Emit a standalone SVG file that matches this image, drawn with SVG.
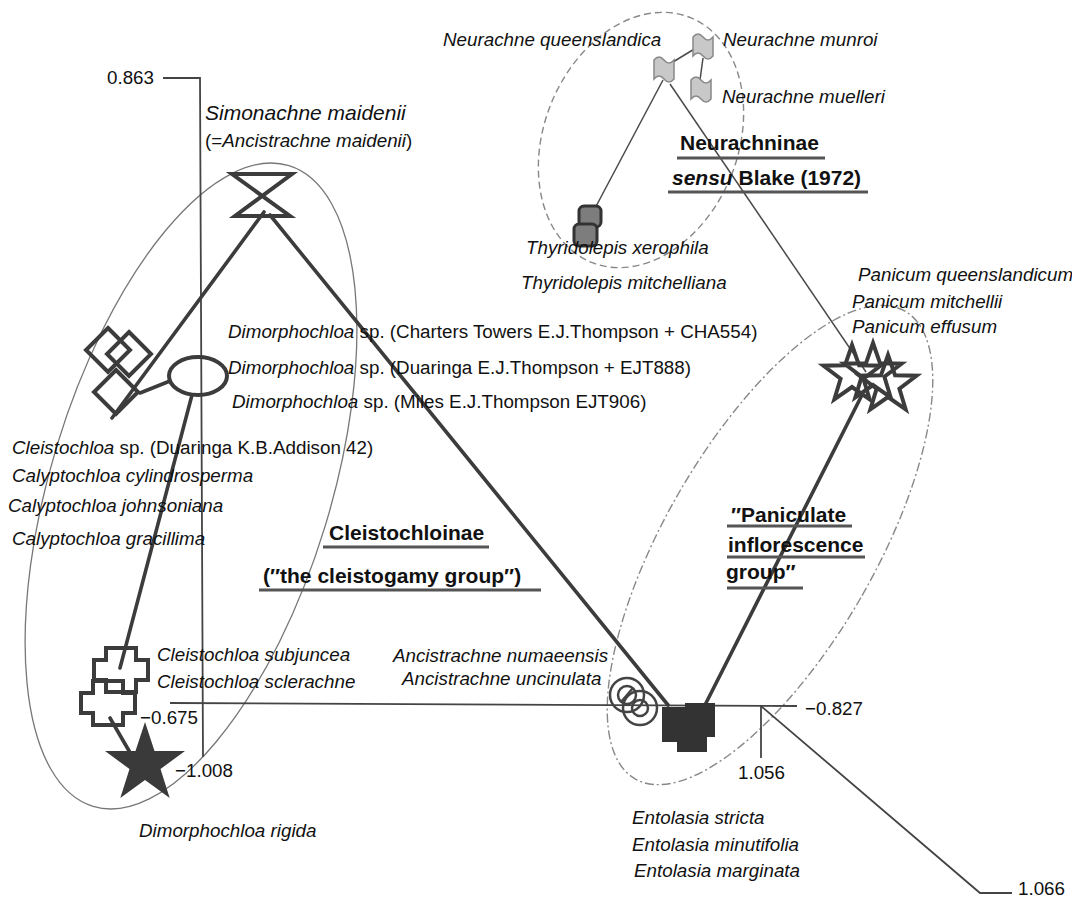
<svg xmlns="http://www.w3.org/2000/svg" width="1072" height="899" viewBox="0 0 1072 899">
<style>
text{font-family:"Liberation Sans",Arial,sans-serif;fill:#111;font-size:18.8px}
.it{font-style:italic}
.b{font-weight:bold;font-size:21px}
.big{font-size:21px}
.ax{stroke:#444;stroke-width:1.8;fill:none}
.thick{stroke:#3c3c3c;stroke-width:3.6;fill:none;stroke-linecap:round}
.thin{stroke:#4a4a4a;stroke-width:1.5;fill:none}
.ul{stroke:#555;stroke-width:3;fill:none}
.node{stroke:#3c3c3c;stroke-width:4;fill:none}
.flag{fill:#c8c8c8;stroke:#888;stroke-width:1.5}
.thy{fill:#7d7d7d;stroke:#333;stroke-width:3}
</style>
<defs>
<polygon id="ostar" points="0,-30 7.06,-9.71 28.53,-9.27 11.41,3.71 17.63,24.27 0,12 -17.63,24.27 -11.41,3.71 -28.53,-9.27 -7.06,-9.71"/>
<polygon id="dia" points="0,-22 22,0 0,22 -22,0"/>
<polygon id="cross" points="-15,-22 15,-22 15,-10 27,-10 27,10 15,10 15,22 -15,22 -15,10 -27,10 -27,-10 -15,-10"/>
<path id="flagp" d="M0,3 Q5,-3 10,3 T20,3 V22 Q15,28 10,22 T0,22 Z"/>
</defs>

<g id="group-ellipses">
<ellipse cx="191" cy="486" rx="140" ry="335" transform="rotate(17 191 486)" fill="none" stroke="#777" stroke-width="1.3"/>
<ellipse cx="641" cy="140" rx="97" ry="132" transform="rotate(22 641 140)" fill="none" stroke="#888" stroke-width="1.4" stroke-dasharray="7 4"/>
<ellipse cx="770" cy="545" rx="105" ry="270" transform="rotate(30 770 545)" fill="none" stroke="#888" stroke-width="1.4" stroke-dasharray="9 3 2 3"/>
</g>

<g id="axes">
<polyline class="ax" points="163,78 200,78 203,757"/>
<line class="ax" x1="170" y1="703" x2="797" y2="706"/>
<line class="ax" x1="761" y1="706" x2="761" y2="758"/>
<polyline class="ax" points="761,706 980,893 1012,893"/>
<text x="107" y="84">0.863</text>
<text x="140" y="724">−0.675</text>
<text x="175" y="777">−1.008</text>
<text x="805" y="715">−0.827</text>
<text x="738" y="779">1.056</text>
<text x="1018" y="895">1.066</text>
</g>

<g id="connectors">
<line class="thick" x1="264" y1="212" x2="112" y2="418"/>
<line class="thick" x1="270" y1="215" x2="668" y2="705"/>
<line class="thick" x1="170" y1="381" x2="140" y2="393"/>
<line class="thick" x1="192" y1="395" x2="120" y2="668"/>
<line class="thick" x1="110" y1="718" x2="132" y2="756"/>
<line class="thick" x1="862" y1="395" x2="705" y2="705"/>
<line class="thin" x1="668" y1="65" x2="696" y2="48"/>
<line class="thin" x1="703" y1="58" x2="700" y2="80"/>
<line class="thin" x1="663" y1="80" x2="593" y2="212" stroke-width="2"/>
<line class="thin" x1="670" y1="84" x2="866" y2="372"/>
</g>

<g id="simonachne">
<polygon class="node" points="232,174 292,174 235,216 290,216" stroke-width="5"/>
<text class="it big" x="205" y="120">Simonachne maidenii</text>
<text x="205" y="147">(=<tspan class="it">Ancistrachne maidenii</tspan>)</text>
</g>

<g id="neurachne">
<use href="#flagp" class="flag" x="654" y="57"/>
<use href="#flagp" class="flag" x="693" y="34"/>
<use href="#flagp" class="flag" x="691" y="77"/>
<text class="it" x="443" y="46">Neurachne queenslandica</text>
<text class="it" x="723" y="46">Neurachne munroi</text>
<text class="it" x="722" y="103">Neurachne muelleri</text>
</g>

<g id="thyridolepis">
<rect class="thy" x="579" y="206" width="22" height="21" rx="5"/>
<rect class="thy" x="574" y="224" width="23" height="22" rx="5"/>
<text class="it" x="526" y="254">Thyridolepis xerophila</text>
<text class="it" x="521" y="289">Thyridolepis mitchelliana</text>
</g>

<g id="neurachninae-label">
<text class="b" x="680" y="150">Neurachninae</text>
<line class="ul" x1="677" y1="158" x2="825" y2="158"/>
<text class="b" x="672" y="185"><tspan font-style="italic">sensu</tspan> Blake (1972)</text>
<line class="ul" x1="668" y1="192" x2="868" y2="192"/>
</g>

<g id="panicum">
<use href="#ostar" class="node" x="852" y="375"/>
<use href="#ostar" class="node" x="873" y="373"/>
<use href="#ostar" class="node" x="888" y="385"/>
<text class="it" x="858" y="281">Panicum queenslandicum</text>
<text class="it" x="852" y="308">Panicum mitchellii</text>
<text class="it" x="852" y="333">Panicum effusum</text>
</g>

<g id="dimorphochloa-sp">
<ellipse class="node" cx="198" cy="376" rx="29" ry="19" fill="#fff"/>
<text x="228" y="338"><tspan class="it">Dimorphochloa</tspan> sp. (Charters Towers E.J.Thompson + CHA554)</text>
<text x="228" y="374"><tspan class="it">Dimorphochloa</tspan> sp. (Duaringa E.J.Thompson + EJT888)</text>
<text x="232" y="408"><tspan class="it">Dimorphochloa</tspan> sp. (Miles E.J.Thompson EJT906)</text>
</g>

<g id="cleistochloa-calyptochloa">
<use href="#dia" class="node" x="108" y="350"/>
<use href="#dia" class="node" x="129" y="354"/>
<use href="#dia" class="node" x="116" y="392"/>
<text x="12" y="454"><tspan class="it">Cleistochloa</tspan> sp. (Duaringa K.B.Addison 42)</text>
<text class="it" x="12" y="482">Calyptochloa cylindrosperma</text>
<text class="it" x="8" y="512">Calyptochloa johnsoniana</text>
<text class="it" x="12" y="545">Calyptochloa gracillima</text>
</g>

<g id="cleistochloinae-label">
<text class="b" x="329" y="540">Cleistochloinae</text>
<line class="ul" x1="323" y1="547" x2="489" y2="547"/>
<text class="b" x="263" y="583">(″the cleistogamy group″)</text>
<line class="ul" x1="259" y1="590" x2="541" y2="590"/>
</g>

<g id="paniculate-label">
<text class="b" x="731" y="522">″Paniculate</text>
<line class="ul" x1="727" y1="526" x2="852" y2="526"/>
<text class="b" x="728" y="552">inflorescence</text>
<line class="ul" x1="727" y1="557" x2="865" y2="557"/>
<text class="b" x="726" y="579">group″</text>
<line class="ul" x1="727" y1="588" x2="803" y2="588"/>
</g>

<g id="cleistochloa-subjuncea">
<use href="#cross" class="node" x="121" y="670" fill="#fff"/>
<use href="#cross" class="node" x="108" y="703" fill="#fff"/>
<text class="it" x="157" y="661">Cleistochloa subjuncea</text>
<text class="it" x="157" y="688">Cleistochloa sclerachne</text>
</g>

<g id="dimorphochloa-rigida">
<polygon fill="#3a3a3a" points="145,722 154.5,751 185,751 160.5,769 169.7,798 145,780 120.3,798 129.5,769 105,751 135.5,751"/>
<text class="it" x="139" y="837" font-size="21.5">Dimorphochloa rigida</text>
</g>

<g id="ancistrachne">
<circle cx="627" cy="695" r="17" fill="none" stroke="#444" stroke-width="2.5"/>
<circle cx="627" cy="695" r="9" fill="none" stroke="#444" stroke-width="2.5"/>
<line x1="621" y1="702" x2="633" y2="688" stroke="#444" stroke-width="2.5"/>
<circle cx="640" cy="708" r="17" fill="none" stroke="#444" stroke-width="2.5"/>
<circle cx="640" cy="708" r="8" fill="none" stroke="#444" stroke-width="2.5"/>
<text class="it" x="393" y="662">Ancistrachne numaeensis</text>
<text class="it" x="402" y="685">Ancistrachne uncinulata</text>
</g>

<g id="entolasia">
<rect x="662" y="707" width="33" height="35" fill="#333"/>
<rect x="685" y="703" width="30" height="34" fill="#333"/>
<rect x="677" y="720" width="30" height="32" fill="#333"/>
<text class="it" x="632" y="824">Entolasia stricta</text>
<text class="it" x="632" y="851">Entolasia minutifolia</text>
<text class="it" x="634" y="877">Entolasia marginata</text>
</g>
</svg>
